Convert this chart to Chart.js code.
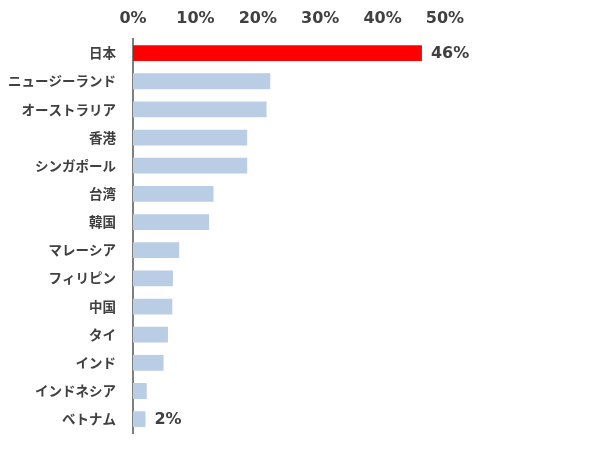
<!DOCTYPE html>
<html lang="ja">
<head>
  <meta charset="UTF-8">
  <title>chart</title>
  <script src="https://cdn.jsdelivr.net/npm/chart.js"></script>
  <style>
    body { margin: 0; background: #fff; }
  </style>
</head>
<body>
  <canvas id="c" width="600" height="449"></canvas>
  <script>
    // データ
    const countries = ['日本', 'ニュージーランド', 'オーストラリア', '香港', 'シンガポール', '台湾', '韓国',
      'マレーシア', 'フィリピン', '中国', 'タイ', 'インド', 'インドネシア', 'ベトナム'];
    const shares = [46.3, 22.0, 21.4, 18.3, 18.3, 12.9, 12.2, 7.4, 6.4, 6.3, 5.6, 4.9, 2.2, 2.0];
    const xTicks = [0, 10, 20, 30, 40, 50];
    const labelled = [0, 13];

    const barColors = countries.map((c, i) => i === 0 ? '#ff0000' : '#b9cde5');

    // 日本とベトナムだけ値を表示
    const valueLabels = {
      id: 'valueLabels',
      afterDatasetsDraw(chart) {
        const ctx = chart.ctx;
        const meta = chart.getDatasetMeta(0);
        ctx.save();
        ctx.font = 'bold 16px "DejaVu Sans"';
        ctx.fillStyle = '#404040';
        ctx.textBaseline = 'middle';
        labelled.forEach(i => {
          const bar = meta.data[i];
          ctx.fillText(Math.round(shares[i]) + '%', bar.x + 9, bar.y + 1);
        });
        ctx.restore();
      }
    };

    new Chart(document.getElementById('c'), {
      type: 'bar',
      data: {
        labels: countries,
        datasets: [{
          data: shares,
          backgroundColor: barColors,
          barPercentage: 0.56,
          categoryPercentage: 1
        }]
      },
      options: {
        indexAxis: 'y',
        responsive: false,
        animation: false,
        layout: { padding: { left: 0, right: 155, top: 0, bottom: 2 } },
        scales: {
          x: {
            position: 'top',
            min: 0,
            max: 50,
            afterBuildTicks: s => { s.ticks = xTicks.map(v => ({ value: v })); },
            afterFit: s => { s.height = 39; },
            grid: { display: false },
            border: { display: false },
            ticks: {
              color: '#404040',
              font: { family: 'DejaVu Sans', size: 16, weight: 'bold' },
              padding: 3,
              callback: v => v + '%'
            }
          },
          y: {
            afterFit: s => { s.width = 133; },
            grid: { display: false },
            border: { display: true, color: '#7f7f7f', width: 2 },
            ticks: {
              color: '#404040',
              font: { family: 'Noto Sans CJK JP', size: 13.5, weight: 'bold', lineHeight: 1 },
              padding: 9
            }
          }
        },
        plugins: {
          legend: { display: false },
          tooltip: { enabled: false }
        }
      },
      plugins: [valueLabels]
    });
  </script>
</body>
</html>
